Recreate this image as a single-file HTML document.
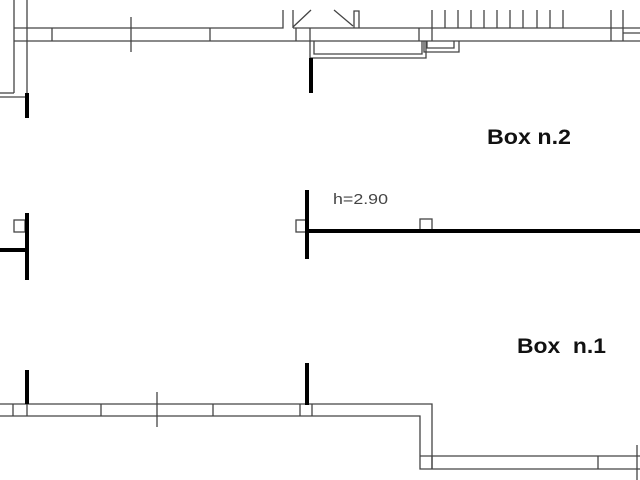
<!DOCTYPE html>
<html><head><style>html,body{margin:0;padding:0;background:#fff}svg{display:block}</style></head>
<body>
<svg width="640" height="480" viewBox="0 0 640 480" xmlns="http://www.w3.org/2000/svg">
<g stroke="#444" stroke-width="1.3" fill="none">
<line x1="14" y1="0" x2="14" y2="93"/>
<line x1="27" y1="0" x2="27" y2="97"/>
<line x1="0" y1="93" x2="14" y2="93"/>
<line x1="0" y1="97" x2="27" y2="97"/>
<polyline points="14,28 283,28 283,10"/>
<line x1="14" y1="41" x2="640" y2="41"/>
<line x1="52" y1="28" x2="52" y2="41"/>
<line x1="131" y1="17" x2="131" y2="52"/>
<line x1="210" y1="28" x2="210" y2="41"/>
<line x1="293" y1="10" x2="293" y2="28"/>
<line x1="293" y1="27" x2="311" y2="10"/>
<line x1="296" y1="28" x2="296" y2="41"/>
<line x1="293" y1="28" x2="640" y2="28"/>
<line x1="334" y1="10" x2="353" y2="26"/>
<polyline points="354,28 354,11 359,11 359,28"/>
<line x1="419" y1="28" x2="419" y2="41"/>
<line x1="611" y1="10" x2="611" y2="41"/>
<line x1="623" y1="10" x2="623" y2="41"/>
<line x1="623" y1="33" x2="640" y2="33"/>
<g>
<line x1="432" y1="10" x2="432" y2="41"/>
<line x1="445" y1="10" x2="445" y2="28"/>
<line x1="458" y1="10" x2="458" y2="28"/>
<line x1="471" y1="10" x2="471" y2="28"/>
<line x1="484" y1="10" x2="484" y2="28"/>
<line x1="497" y1="10" x2="497" y2="28"/>
<line x1="510" y1="10" x2="510" y2="28"/>
<line x1="523" y1="10" x2="523" y2="28"/>
<line x1="537" y1="10" x2="537" y2="28"/>
<line x1="550" y1="10" x2="550" y2="28"/>
<line x1="563" y1="10" x2="563" y2="28"/>
</g>
<polyline points="310,28 310,58 426,58 426,41"/>
<polyline points="314,41 314,54 422,54 422,41"/>
<polyline points="424,41 424,52 459,52 459,41"/>
<polyline points="427,41 427,48 454,48 454,41"/>
<polyline points="0,404 432,404 432,469"/>
<polyline points="0,416 420,416 420,469 640,469"/>
<line x1="420" y1="456" x2="640" y2="456"/>
<line x1="432" y1="456" x2="432" y2="469"/>
<line x1="598" y1="456" x2="598" y2="469"/>
<line x1="637" y1="445" x2="637" y2="480"/>
<line x1="13" y1="404" x2="13" y2="416"/>
<line x1="27" y1="404" x2="27" y2="416"/>
<line x1="101" y1="404" x2="101" y2="416"/>
<line x1="157" y1="392" x2="157" y2="427"/>
<line x1="213" y1="404" x2="213" y2="416"/>
<line x1="300" y1="404" x2="300" y2="416"/>
<line x1="312" y1="404" x2="312" y2="416"/>
<rect x="14" y="220" width="11" height="12"/>
<rect x="296" y="220" width="12" height="12"/>
<rect x="420" y="219" width="12" height="12"/>
</g>
<g fill="#000">
<rect x="25" y="93" width="4" height="25"/>
<rect x="309" y="58" width="4" height="35"/>
<rect x="25" y="213" width="4" height="67"/>
<rect x="0" y="248" width="27" height="4"/>
<rect x="305" y="190" width="4" height="69"/>
<rect x="307" y="229" width="333" height="4"/>
<rect x="25" y="370" width="4" height="34"/>
<rect x="305" y="363" width="4" height="42"/>
</g>
<text x="333" y="204" font-family="Liberation Sans, sans-serif" font-size="15" fill="#444" textLength="55" lengthAdjust="spacingAndGlyphs">h=2.90</text>
<text x="487" y="144" font-family="Liberation Sans, sans-serif" font-size="21" font-weight="bold" fill="#111" textLength="84" lengthAdjust="spacingAndGlyphs">Box n.2</text>
<text x="517" y="353" font-family="Liberation Sans, sans-serif" font-size="21" font-weight="bold" fill="#111" xml:space="preserve" textLength="89" lengthAdjust="spacingAndGlyphs">Box  n.1</text>
</svg>
</body></html>
